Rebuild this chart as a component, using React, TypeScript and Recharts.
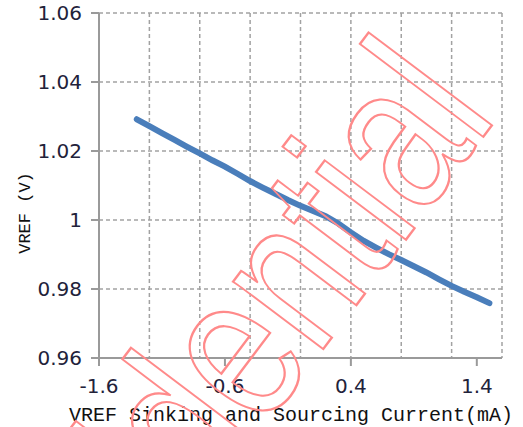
import React from "react";
import { CartesianGrid, Line, LineChart, XAxis, YAxis } from "recharts";

// VREF vs sink/source current
const currents = [-1.3, -1.2, -1.1, -1.0, -0.9, -0.8, -0.7, -0.6, -0.5, -0.4, -0.3, -0.2, -0.1, 0.0, 0.1, 0.2, 0.3, 0.4, 0.5, 0.6, 0.7, 0.8, 0.9, 1.0, 1.1, 1.2, 1.3, 1.4, 1.5];
const vref = [1.0292, 1.0272, 1.0252, 1.0232, 1.0212, 1.0193, 1.0173, 1.0155, 1.0134, 1.0113, 1.0094, 1.0076, 1.0058, 1.0041, 1.0026, 1.0011, 0.999, 0.9964, 0.994, 0.992, 0.9901, 0.9884, 0.9866, 0.9848, 0.9828, 0.9809, 0.9792, 0.9776, 0.9759];

const xTicks = [-1.6, -0.6, 0.4, 1.4];
const xGridTicks = [-1.6, -1.2, -0.8, -0.4, 0, 0.4, 0.8, 1.2, 1.6];
const yTicks = [0.96, 0.98, 1, 1.02, 1.04, 1.06];

const xTitle = "VREF Sinking and Sourcing Current(mA)";
const yTitle = "VREF (V)";
const watermark = "Confidential";

const data = currents.map((x, i) => ({ x, v: vref[i] }));

const axisGray = "#9a9a9a";
const tickStyle = { fill: "#22223a", fontSize: 20, fontFamily: "DejaVu Sans" };
const monoFont = "Liberation Mono";

export default function App() {
  return (
    <div style={{ position: "absolute", left: 0, top: 0, width: 523, height: 427, background: "#fff" }}>
      <LineChart width={523} height={427} data={data} margin={{ top: 13, right: 21, bottom: 0, left: 0 }}>
        <XAxis
          xAxisId="grid"
          dataKey="x"
          type="number"
          domain={[-1.6, 1.6]}
          ticks={xGridTicks}
          height={0}
          hide
        />
        <XAxis
          xAxisId="top"
          dataKey="x"
          type="number"
          orientation="top"
          domain={[-1.6, 1.6]}
          height={0}
          tick={false}
          tickLine={false}
          axisLine={{ stroke: axisGray, strokeWidth: 2 }}
        />
        <YAxis
          yAxisId="right"
          orientation="right"
          type="number"
          domain={[0.96, 1.06]}
          width={0}
          tick={false}
          tickLine={false}
          axisLine={{ stroke: axisGray, strokeWidth: 2 }}
        />
        <CartesianGrid xAxisId="grid" yAxisId="main" stroke="#a2a2a2" strokeWidth={1.5} strokeDasharray="4 3" />
        <XAxis
          xAxisId="main"
          dataKey="x"
          type="number"
          domain={[-1.6, 1.6]}
          ticks={xTicks}
          height={69}
          tickSize={8}
          tickMargin={13}
          tick={tickStyle}
          axisLine={{ stroke: axisGray, strokeWidth: 2 }}
          tickLine={{ stroke: axisGray, strokeWidth: 2 }}
          label={{
            content: () => (
              <text x={291} y={421} textAnchor="middle" fontFamily={monoFont} fontSize={20} fill="#111">
                {xTitle}
              </text>
            )
          }}
        />
        <YAxis
          yAxisId="main"
          type="number"
          domain={[0.96, 1.06]}
          ticks={yTicks}
          width={99}
          tickSize={8}
          tickMargin={9}
          tick={tickStyle}
          axisLine={{ stroke: axisGray, strokeWidth: 2 }}
          tickLine={{ stroke: axisGray, strokeWidth: 2 }}
          label={{
            content: () => (
              <text
                x={25}
                y={213}
                transform="rotate(-90 25 213)"
                textAnchor="middle"
                dominantBaseline="central"
                fontFamily={monoFont}
                fontSize={17}
                fill="#111"
              >
                {yTitle}
              </text>
            )
          }}
        />
        <Line
          xAxisId="main"
          yAxisId="main"
          dataKey="v"
          type="linear"
          stroke="#4a7ebb"
          strokeWidth={6}
          strokeLinecap="round"
          dot={false}
          isAnimationActive={false}
        />
      </LineChart>
      <svg width={523} height={427} style={{ position: "absolute", left: 0, top: 0, pointerEvents: "none" }}>
        <text
          x={0}
          y={0}
          transform="translate(498.6 116.5) rotate(-53) scale(0.775 1)"
          textAnchor="end"
          fontFamily="Liberation Sans"
          fontSize={213}
          fill="none"
          stroke="#ff8a8a"
          strokeWidth={2.4}
        >
          {watermark}
        </text>
      </svg>
    </div>
  );
}
